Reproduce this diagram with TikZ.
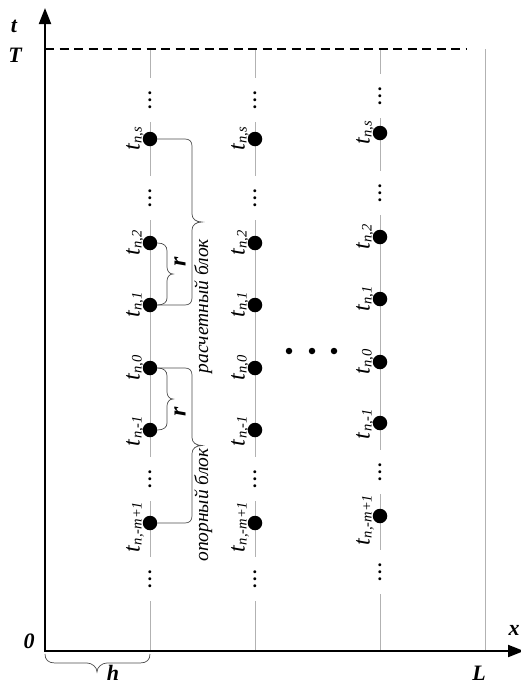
\documentclass[tikz,border=0pt]{standalone}
\usepackage{fontspec}
\setmainfont{Liberation Serif}
\usetikzlibrary{arrows.meta}
\newcommand\tlab[1]{{\fontsize{24}{24}\selectfont\textit{t}}\raisebox{-2pt}{\fontsize{14.5}{14.5}\selectfont\textit{#1}}}
\tikzset{
  axisline/.style={line width=2pt, line join=miter,
    {Triangle[length=16pt,width=12pt]}-{Triangle[length=16pt,width=12pt]}},
  gridline/.style={gray!60, line width=0.8pt},
  tdashed/.style={line width=1.3pt, dash pattern=on 9pt off 5.5pt},
  dotnode/.style={circle, fill=black, inner sep=0pt, minimum size=14.5pt},
  smalldot/.style={circle, fill=black, inner sep=0pt, minimum size=6.5pt},
  vellips/.style={rotate=90, fill=white, inner xsep=0pt, inner ysep=1pt,
    minimum width=44pt, font=\bfseries\fontsize{18}{18}\selectfont},
  tlabel/.style={rotate=90, anchor=base, inner sep=0pt},
  bracestyle/.style={draw=black!70, line width=0.7pt},
  blocktext/.style={rotate=90, anchor=base, inner sep=0pt, font=\itshape\fontsize{19.5}{19.5}\selectfont},
  rtext/.style={rotate=90, inner sep=0pt, font=\bfseries\itshape\fontsize{24}{24}\selectfont},
  axlabel/.style={inner sep=0pt, font=\bfseries\itshape\fontsize{22}{22}\selectfont}
}
\begin{document}
\begin{tikzpicture}[x=1pt, y=-1pt]
\useasboundingbox (0,0) rectangle (521,686);
% grid lines
\foreach \gx/\nm in {150/a,255/b,380/c,485/d}{
  \coordinate (top\nm) at (\gx,49);
  \coordinate (bot\nm) at (\gx,651);
  \draw[gridline] (top\nm) -- (bot\nm);
}
% axes
\coordinate (O) at (45,651);
\coordinate (ytip) at (45,8);
\coordinate (xtip) at (524,651);
\coordinate (Tstart) at (45,49);
\coordinate (Tend) at (466,49);
\draw[tdashed] (Tstart) -- (Tend);
\draw[axisline] (ytip) -- (O) -- (xtip);
% column 1 and 2
\foreach \cx/\cn in {150/a,255/b}{
  \node[vellips] (e1\cn) at (\cx,100) {.\hspace{2.5pt}.\hspace{2.5pt}.};
  \node[vellips] (e2\cn) at (\cx,198) {.\hspace{2.5pt}.\hspace{2.5pt}.};
  \node[vellips] (e3\cn) at (\cx,479) {.\hspace{2.5pt}.\hspace{2.5pt}.};
  \node[vellips] (e4\cn) at (\cx,579) {.\hspace{2.5pt}.\hspace{2.5pt}.};
  \node[dotnode] (s\cn) at (\cx,139) {};
  \node[dotnode] (two\cn) at (\cx,243) {};
  \node[dotnode] (one\cn) at (\cx,305) {};
  \node[dotnode] (zero\cn) at (\cx,368) {};
  \node[dotnode] (mone\cn) at (\cx,430) {};
  \node[dotnode] (mm\cn) at (\cx,523) {};
  \node[tlabel] (ls\cn) at ([xshift=-10.5pt]s\cn.center) {\tlab{n,s}};
  \node[tlabel] (ltwo\cn) at ([xshift=-10.5pt]two\cn.center) {\tlab{n,2}};
  \node[tlabel] (lone\cn) at ([xshift=-10.5pt]one\cn.center) {\tlab{n,1}};
  \node[tlabel] (lzero\cn) at ([xshift=-10.5pt]zero\cn.center) {\tlab{n,0}};
  \node[tlabel] (lmone\cn) at ([xshift=-10.5pt,yshift=-1pt]mone\cn.center) {\tlab{n,-1}};
  \node[tlabel] (lmm\cn) at ([xshift=-10.5pt,yshift=-4pt]mm\cn.center) {\tlab{n,-m+1}};
}
% column 3
\node[vellips] (e1c) at (380,96) {.\hspace{2.5pt}.\hspace{2.5pt}.};
\node[vellips] (e2c) at (380,193) {.\hspace{2.5pt}.\hspace{2.5pt}.};
\node[vellips] (e3c) at (380,472) {.\hspace{2.5pt}.\hspace{2.5pt}.};
\node[vellips] (e4c) at (380,572) {.\hspace{2.5pt}.\hspace{2.5pt}.};
\node[dotnode] (sc) at (380,133) {};
\node[dotnode] (twoc) at (380,237) {};
\node[dotnode] (onec) at (380,299) {};
\node[dotnode] (zeroc) at (380,362) {};
\node[dotnode] (monec) at (380,423) {};
\node[dotnode] (mmc) at (380,516) {};
\node[tlabel] (lsc) at ([xshift=-10.5pt]sc.center) {\tlab{n,s}};
\node[tlabel] (ltwoc) at ([xshift=-10.5pt]twoc.center) {\tlab{n,2}};
\node[tlabel] (lonec) at ([xshift=-10.5pt]onec.center) {\tlab{n,1}};
\node[tlabel] (lzeroc) at ([xshift=-10.5pt]zeroc.center) {\tlab{n,0}};
\node[tlabel] (lmonec) at ([xshift=-10.5pt,yshift=-1pt]monec.center) {\tlab{n,-1}};
\node[tlabel] (lmmc) at ([xshift=-10.5pt,yshift=-4pt]mmc.center) {\tlab{n,-m+1}};
% horizontal dots
\node[smalldot] (hd1) at (289,351) {};
\node[smalldot] (hd2) at (312,351) {};
\node[smalldot] (hd3) at (334,351) {};
% braces
\draw[bracestyle] (sa.east) -- (185,139) .. controls (189.5,139) and (192,141.5) .. (192,146)
  -- (192,214) .. controls (192,219) and (196,222) .. (202,222)
  .. controls (196,222) and (192,225) .. (192,230)
  -- (192,298) .. controls (192,302.5) and (189.5,305) .. (185,305) -- (onea.east);
\draw[bracestyle] (twoa.east) .. controls (164,243) and (167,246) .. (167,251)
  -- (167,267) .. controls (167,271) and (169.5,274) .. (173,274)
  .. controls (169.5,274) and (167,277) .. (167,281)
  -- (167,298) .. controls (167,302) and (164,305) .. (onea.east);
\draw[bracestyle] (zeroa.east) .. controls (164,368) and (167,371) .. (167,376)
  -- (167,392) .. controls (167,396) and (169.5,399) .. (173,399)
  .. controls (169.5,399) and (167,402) .. (167,406)
  -- (167,423) .. controls (167,427) and (164,430) .. (monea.east);
\draw[bracestyle] (zeroa.east) -- (185,368) .. controls (189.5,368) and (192,370.5) .. (192,375)
  -- (192,437.5) .. controls (192,442.5) and (196,445.5) .. (202,445.5)
  .. controls (196,445.5) and (192,448.5) .. (192,453.5)
  -- (192,516) .. controls (192,520.5) and (189.5,523) .. (185,523) -- (mma.east);
\coordinate (hb1) at (45,654);
\coordinate (hb2) at (150,654);
\draw[bracestyle] (hb1) .. controls (45,659.5) and (48,663) .. (55,663)
  -- (87,663) .. controls (92,663) and (97,667) .. (97,672)
  .. controls (97,667) and (102,663) .. (107,663)
  -- (140,663) .. controls (147,663) and (150,659.5) .. (hb2);
\node[rtext] (r1) at (180,262) {r};
\node[rtext] (r2) at (180,412) {r};
\node[blocktext] (calc) at (208,306) {расчетный блок};
\node[blocktext] (opor) at (208,505) {опорный блок};
% axis labels
\node[axlabel] (tl) at (14,26) {t};
\node[axlabel] (Tl) at (15,55) {T};
\node[axlabel] (zl) at (29,641) {0};
\node[axlabel] (xl) at (514,630) {x};
\node[axlabel] (hl) at (113,673) {h};
\node[axlabel] (Ll) at (479,673) {L};
\end{tikzpicture}
\end{document}
